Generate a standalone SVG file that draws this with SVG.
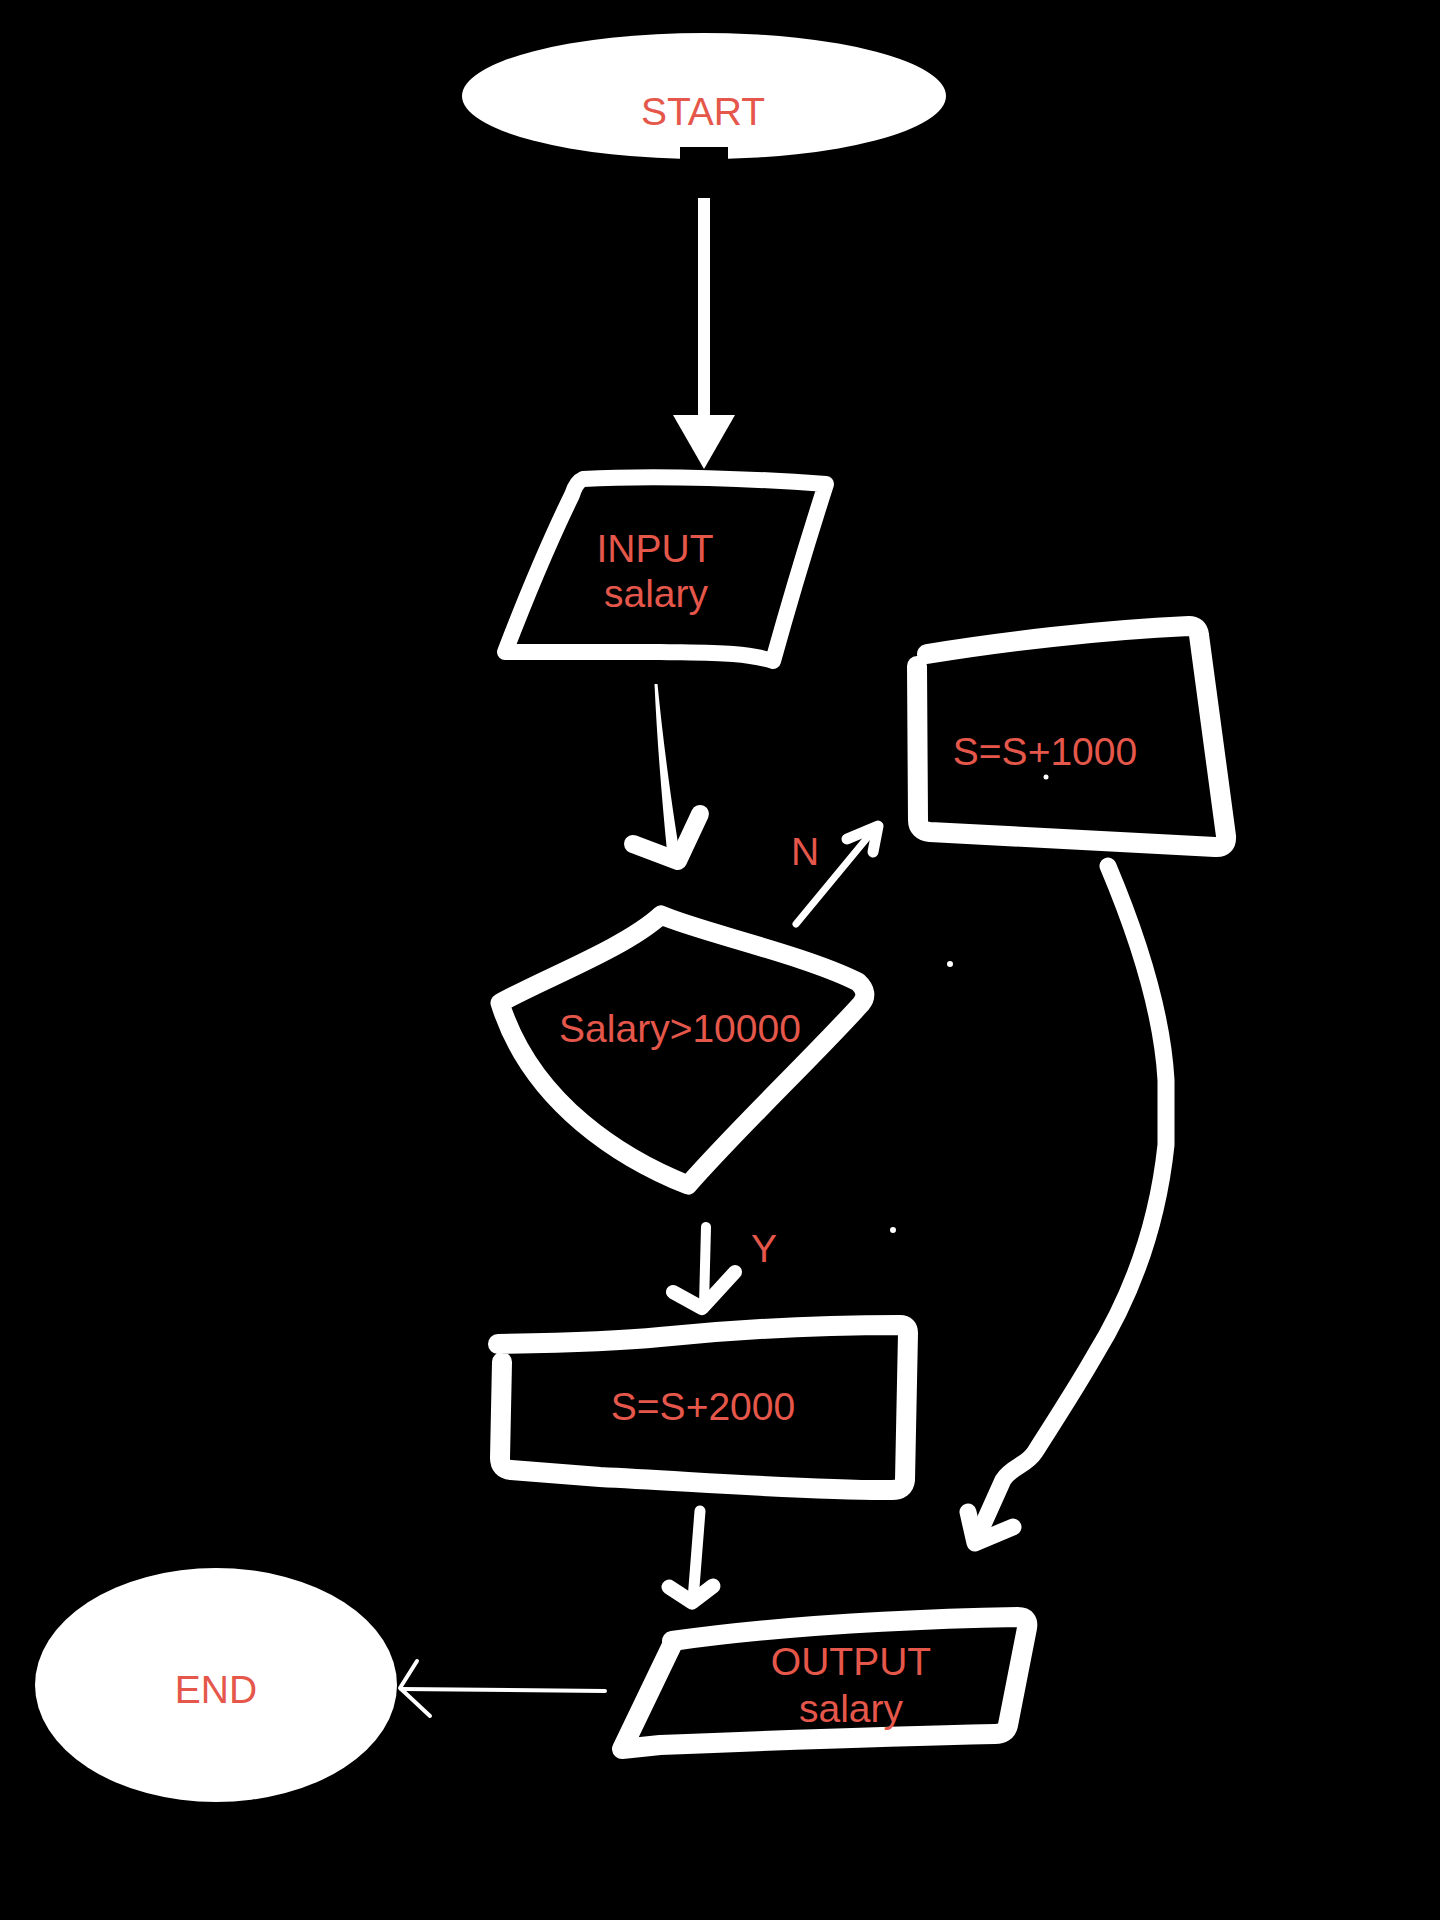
<svg xmlns="http://www.w3.org/2000/svg" width="1440" height="1920" viewBox="0 0 1440 1920">
  <style>
    .lbl { font-family: "Liberation Sans", Arial, sans-serif; font-size: 39px; fill: #E5574A; text-anchor: middle; }
    .shape { fill: none; stroke: #fff; stroke-linecap: round; stroke-linejoin: round; }
    .conn { fill: none; stroke: #fff; stroke-linecap: round; stroke-linejoin: round; }
  </style>
  <rect x="0" y="0" width="1440" height="1920" fill="#000"/>

  <g id="connectors">
    <!-- START -> INPUT -->
    <rect x="698" y="198" width="12" height="218" fill="#fff"/>
    <polygon points="673,415 735,415 704,469" fill="#fff"/>
    <!-- INPUT -> decision -->
    <path d="M654.5,684 C657,740 662,800 667,851 L679,849 C671,800 663,740 657.5,684 Z" fill="#fff"/>
    <polyline class="conn" stroke-width="18" points="633,844 678,861 700,814"/>
    <!-- decision -> S=S+1000 (N) -->
    <line class="conn" stroke-width="7" x1="796" y1="924" x2="872" y2="832"/>
    <polyline class="conn" stroke-width="11" points="847,839 878,826 873,852"/>
    <!-- decision -> S=S+2000 (Y) -->
    <path class="conn" stroke-width="10" d="M706,1227 L704,1305"/>
    <polyline class="conn" stroke-width="14" points="673,1292 702,1308 735,1272"/>
    <!-- S=S+1000 -> OUTPUT -->
    <path class="conn" stroke-width="17" d="M1108,866 C1135,930 1162,1010 1166,1080 L1166,1145 C1158,1220 1135,1290 1095,1355 C1075,1390 1052,1425 1035,1452 C1026,1466 1012,1466 1003,1480 L977,1538"/>
    <polyline class="conn" stroke-width="17" points="968,1512 975,1543 1013,1527"/>
    <!-- S=S+2000 -> OUTPUT -->
    <path class="conn" stroke-width="11" d="M700,1511 L693,1600"/>
    <polyline class="conn" stroke-width="15" points="669,1587 692,1602 713,1586"/>
    <!-- OUTPUT -> END -->
    <path class="conn" stroke-width="4" d="M605,1691 L401,1689"/>
    <polyline class="conn" stroke-width="4" points="417,1661 400,1688 430,1716"/>
  </g>

  <g id="start">
    <ellipse cx="704" cy="96" rx="242" ry="63" fill="#fff"/>
    <rect x="680" y="147" width="48" height="46" fill="#000"/>
    <text class="lbl" x="703" y="125" font-size="38">START</text>
  </g>

  <g id="input">
    <path class="shape" stroke-width="16" d="M583,479 C660,475 760,479 826,484 C808,540 790,600 773,661 C745,652 710,653 660,652 L505,652 C525,600 550,540 572,495 Q576,482 583,479 Z"/>
    <text class="lbl" x="655" y="562">INPUT</text>
    <text class="lbl" x="656" y="607">salary</text>
  </g>

  <g id="decision">
    <path class="shape" stroke-width="19" d="M500,1003 C545,978 625,948 661,915 C700,932 805,955 858,982 Q870,993 861,1004 C815,1055 738,1128 688,1185 C625,1160 532,1105 500,1003 Z"/>
    <text class="lbl" x="680" y="1042">Salary&gt;10000</text>
  </g>

  <g id="n-label">
    <text class="lbl" x="805" y="865" font-size="35">N</text>
  </g>
  <g id="y-label">
    <text class="lbl" x="764" y="1262" font-size="37">Y</text>
  </g>

  <g id="add1000">
    <path class="shape" stroke-width="20" d="M927,654 C1000,642 1100,630 1189,626 Q1198,626 1199,635 L1226,836 Q1227,848 1215,847 L930,832 Q918,831 918,820 L917,666"/>
    <text class="lbl" x="1045" y="765">S=S+1000</text>
    <circle cx="1046" cy="777" r="2.5" fill="#fff"/>
  </g>

  <g id="add2000">
    <path class="shape" stroke-width="20" d="M498,1344 C560,1343 620,1341 660,1337 C720,1331 800,1325 900,1325 Q908,1325 908,1333 L905,1480 Q904,1490 892,1490 C820,1491 700,1482 600,1477 L511,1470 Q500,1469 500,1458 L502,1362"/>
    <text class="lbl" x="703" y="1420">S=S+2000</text>
  </g>

  <g id="output">
    <path class="shape" stroke-width="20" d="M672,1641 C750,1630 860,1620 1018,1617 Q1029,1617 1027,1628 L1008,1725 Q1006,1734 995,1734 C900,1736 760,1741 660,1745 L622,1749 L672,1645"/>
    <text class="lbl" x="851" y="1675">OUTPUT</text>
    <text class="lbl" x="851" y="1722">salary</text>
  </g>

  <g id="end">
    <ellipse cx="216" cy="1685" rx="181" ry="117" fill="#fff"/>
    <text class="lbl" x="216" y="1703">END</text>
  </g>

  <g id="dots">
    <circle cx="950" cy="964" r="3" fill="#fff"/>
    <circle cx="893" cy="1230" r="3" fill="#fff"/>
  </g>
</svg>
